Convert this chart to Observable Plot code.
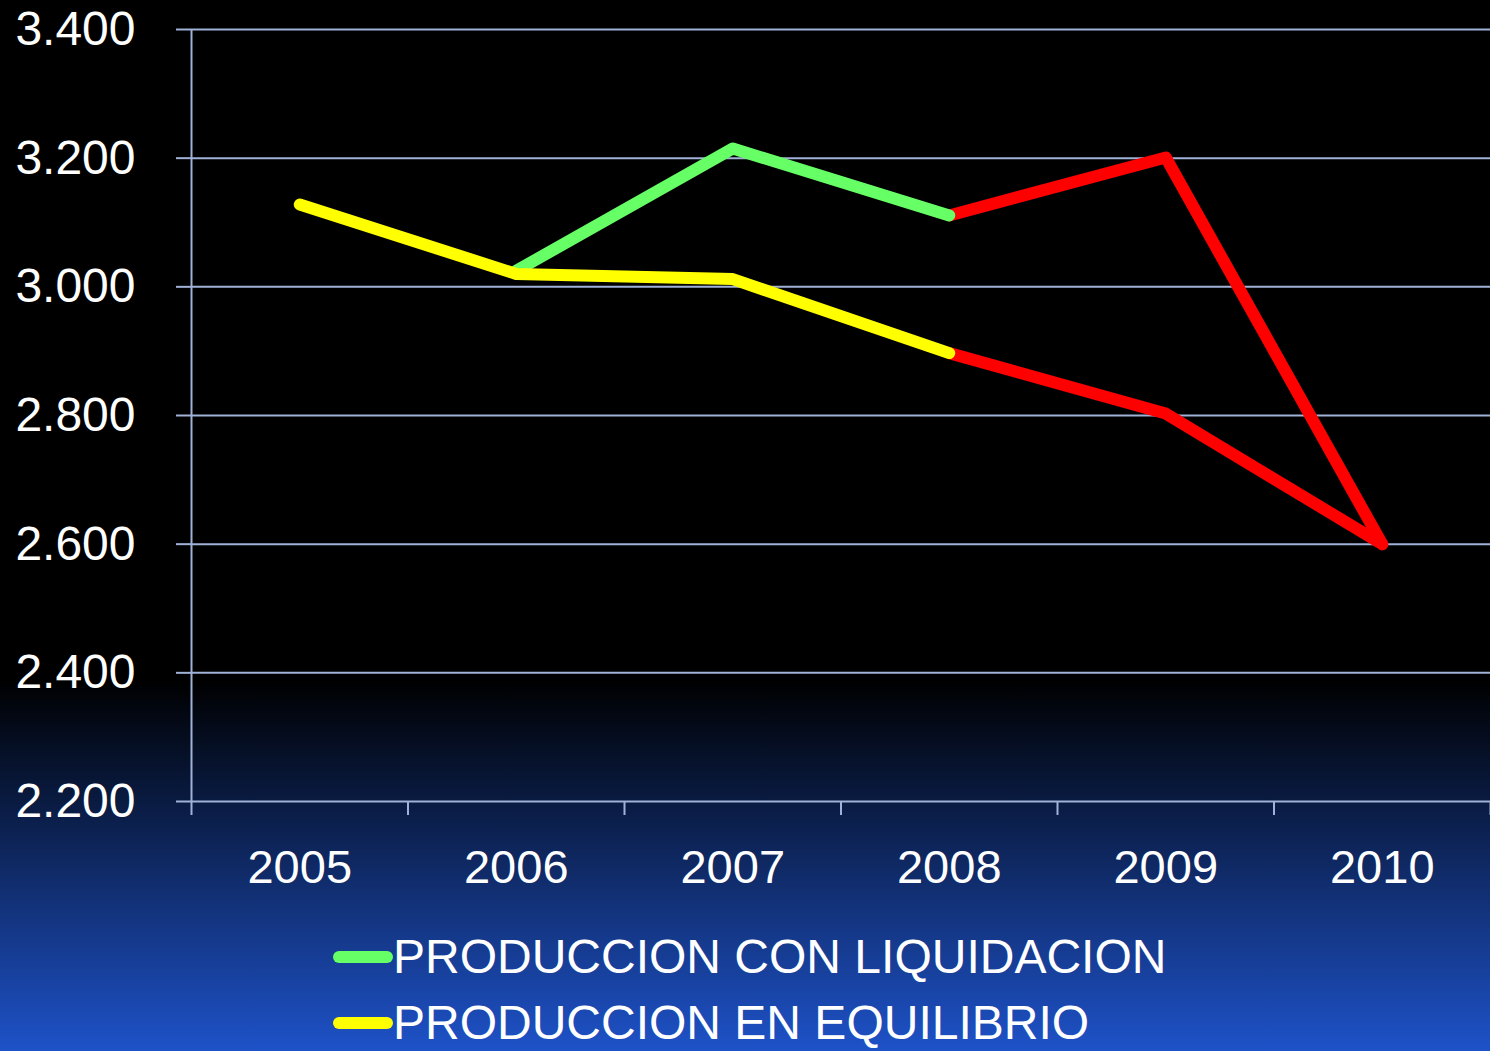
<!DOCTYPE html>
<html><head><meta charset="utf-8">
<script src="https://cdn.jsdelivr.net/npm/d3@7"></script>
<script src="https://cdn.jsdelivr.net/npm/@observablehq/plot@0.6"></script>
<style>
html,body{margin:0;padding:0;width:1490px;height:1051px;overflow:hidden;}
body{background:linear-gradient(to bottom,#000 0px,#000 680px,#1e52c8 1051px);font-family:"Liberation Sans",Arial,sans-serif;}
#chart svg{display:block;}
#legend{margin-top:4px;}
.row{display:flex;align-items:center;height:66px;padding-left:333px;}
.sw{width:60px;height:12px;border-radius:6px;flex:none;}
.lab{color:#fff;font-size:48px;line-height:1;white-space:nowrap;}
</style></head><body><div id="chart"></div><div id="legend"></div>
<script>
const years = [2005, 2006, 2007, 2008, 2009, 2010];
const liquidacion = [null, 3025, 3215, 3111, 3201, 2600];
const equilibrio = [3128, 3020, 3012, 2897, 2803, 2600];
const seriesNames = ["PRODUCCION CON LIQUIDACION", "PRODUCCION EN EQUILIBRIO"];
const seriesColors = ["#66ff66", "#ffff00"];
const alertColor = "#ff0000";
const alertFrom = 2008;
const yTicks = [2200, 2400, 2600, 2800, 3000, 3200, 3400];
const gridColor = "#a0b2d8";

const seriesValues = [liquidacion, equilibrio];
const normalRows = [[], []];
const alertRows = [];
seriesValues.forEach((vals, s) => {
  years.forEach((yr, i) => {
    const v = vals[i];
    if (v == null) return;
    if (yr <= alertFrom) normalRows[s].push({part: s + "-n", year: yr, value: v});
    if (yr >= alertFrom) alertRows.push({part: s + "-a", year: yr, value: v});
  });
});
const bounds = years.map(y => y - 0.5).concat([years[years.length - 1] + 0.5]);
const loc = d3.formatLocale({decimal: ",", thousands: ".", grouping: [3], currency: ["", ""]});
const fmt = loc.format(",");
const font = '"Liberation Sans", Arial, sans-serif';
const lineOpts = {x: "year", y: "value", z: "part", strokeWidth: 12, strokeLinecap: "round", strokeLinejoin: "round"};

const chart = Plot.plot({
  width: 1490, height: 920,
  marginLeft: 191, marginRight: 0, marginTop: 29, marginBottom: 119,
  style: {background: "transparent", color: "#fff", fontFamily: font, overflow: "visible"},
  x: {type: "linear", domain: [bounds[0], bounds[bounds.length - 1]]},
  y: {domain: [yTicks[0], yTicks[yTicks.length - 1]]},
  marks: [
    Plot.gridY(yTicks, {stroke: gridColor, strokeOpacity: 1, strokeWidth: 2}),
    Plot.axisY(yTicks, {tickSize: 15, tickPadding: 41, fontSize: 48, stroke: gridColor, strokeWidth: 2, strokeOpacity: 1, fill: "#fff", tickFormat: fmt, label: null}),
    Plot.ruleX([bounds[0]], {stroke: gridColor, strokeWidth: 2}),
    Plot.axisX(bounds, {tickSize: 14, tickFormat: () => "", stroke: gridColor, strokeWidth: 2, strokeOpacity: 1, label: null}),
    Plot.axisX(years, {tickSize: 0, tickPadding: 48, fontSize: 47, fill: "#fff", tickFormat: d => String(d), label: null}),
    Plot.line(alertRows, {...lineOpts, stroke: alertColor}),
    Plot.line(normalRows[0], {...lineOpts, stroke: seriesColors[0]}),
    Plot.line(normalRows[1], {...lineOpts, stroke: seriesColors[1]})
  ]
});
document.getElementById("chart").appendChild(chart);

const legend = document.getElementById("legend");
seriesNames.forEach((name, i) => {
  const row = document.createElement("div");
  row.className = "row";
  const sw = document.createElement("div");
  sw.className = "sw";
  sw.style.background = seriesColors[i];
  const lab = document.createElement("span");
  lab.className = "lab";
  lab.textContent = name;
  row.appendChild(sw);
  row.appendChild(lab);
  legend.appendChild(row);
});
</script></body></html>
